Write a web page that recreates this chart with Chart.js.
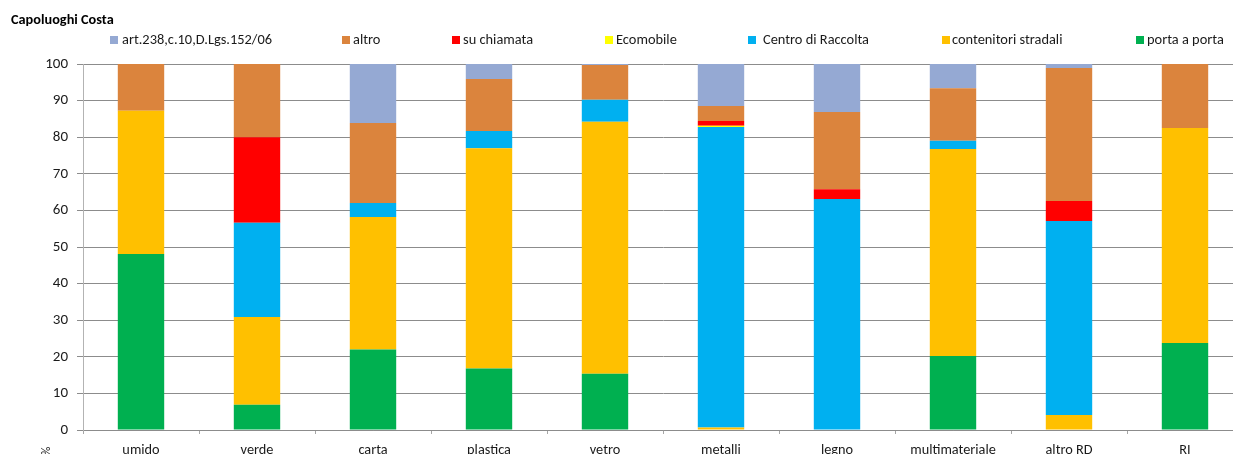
<!DOCTYPE html>
<html>
<head>
<meta charset="utf-8">
<script src="https://cdn.jsdelivr.net/npm/chart.js@4.4.1/dist/chart.umd.min.js"></script>
<style>
  html, body { margin: 0; padding: 0; background: #ffffff; overflow: hidden; }
  #wrap { position: relative; width: 1250px; height: 480px; }
</style>
</head>
<body>
<div id="wrap"><canvas id="c" width="1250" height="480"></canvas></div>
<script>
// ---- data ----
const categories = ['umido', 'verde', 'carta', 'plastica', 'vetro', 'metalli', 'legno', 'multimateriale', 'altro RD', 'RI'];
const yTicks = [0, 10, 20, 30, 40, 50, 60, 70, 80, 90, 100];

const portaAPorta          = [48.1, 6.9, 22.0, 16.8, 15.4, 0.0, 0.0, 20.2, 0.0, 23.8];
const contenitoriStradali  = [39.1, 24.0, 36.2, 60.2, 68.8, 0.7, 0.0, 56.6, 4.1, 58.7];
const centroDiRaccolta     = [0.0, 25.7, 3.8, 4.7, 6.0, 82.1, 63.1, 2.2, 53.0, 0.0];
const ecomobile            = [0.0, 0.0, 0.0, 0.0, 0.0, 0.3, 0.0, 0.0, 0.0, 0.0];
const suChiamata           = [0.0, 23.4, 0.0, 0.0, 0.0, 1.3, 2.7, 0.0, 5.5, 0.0];
const altro                = [12.8, 20.0, 21.9, 14.2, 9.5, 4.1, 21.1, 14.4, 36.3, 17.5];
const art238               = [0.0, 0.0, 16.1, 4.1, 0.3, 11.5, 13.1, 6.6, 1.1, 0.0];

const seriesNames = ['porta a porta', 'contenitori stradali', 'Centro di Raccolta', 'Ecomobile', 'su chiamata', 'altro', 'art.238,c.10,D.Lgs.152/06'];
const seriesValues = [portaAPorta, contenitoriStradali, centroDiRaccolta, ecomobile, suChiamata, altro, art238];
const seriesColors = ['#00B050', '#FFC000', '#00B0F0', '#FFFF00', '#FF0000', '#DB843D', '#95A9D3'];

// legend layout (reference order: reverse of stacking)
const legendMarkerX = [110, 342, 452, 605, 748, 942, 1136];
const legendTextX   = [122, 353, 463, 616, 763, 952, 1147];

const FONT = "Carlito, Calibri, Lato, 'Liberation Sans', sans-serif";

const datasets = seriesNames.map((name, i) => ({
  label: name,
  data: seriesValues[i],
  backgroundColor: seriesColors[i],
  borderWidth: 0,
  barPercentage: 0.4,
  categoryPercentage: 1.0,
  stack: 's'
}));

const overlay = {
  id: 'overlay',
  afterDraw(chart) {
    const ctx = chart.ctx;
    ctx.save();
    // title
    ctx.fillStyle = '#000000';
    ctx.font = 'bold 14.3px ' + FONT;
    ctx.textBaseline = 'middle';
    ctx.textAlign = 'left';
    ctx.fillText('Capoluoghi Costa', 11, 20.5);
    // legend (reversed order)
    ctx.font = '14.4px ' + FONT;
    const n = chart.data.datasets.length;
    for (let k = 0; k < n; k++) {
      const ds = chart.data.datasets[n - 1 - k];
      ctx.fillStyle = ds.backgroundColor;
      ctx.fillRect(legendMarkerX[k], 36, 8, 8);
      ctx.fillStyle = '#1a1a1a';
      ctx.fillText(ds.label, legendTextX[k], 40.5);
    }
    // rotated axis unit
    ctx.translate(47, 451);
    ctx.rotate(-Math.PI / 2);
    ctx.font = '12px ' + FONT;
    ctx.fillStyle = '#1a1a1a';
    ctx.textAlign = 'center';
    ctx.fillText('%', 0, 0);
    ctx.restore();
  }
};

new Chart(document.getElementById('c'), {
  type: 'bar',
  data: { labels: categories, datasets },
  options: {
    responsive: false,
    animation: false,
    maintainAspectRatio: false,
    layout: { padding: { top: 64, right: 7, left: 0, bottom: 0 } },
    plugins: { legend: { display: false }, tooltip: { enabled: false }, title: { display: false } },
    scales: {
      x: {
        stacked: true,
        afterFit(s) { s.height = 50; },
        grid: { display: true, offset: true, drawOnChartArea: false, drawTicks: true, tickLength: 4, color: '#a6a6a6' },
        border: { display: true, color: '#8c8c8c', width: 1 },
        ticks: { color: '#1a1a1a', font: { family: FONT, size: 14.3 }, padding: 8, maxRotation: 0, autoSkip: false }
      },
      y: {
        stacked: true,
        min: 0, max: 100,
        afterFit(s) { s.width = 83; },
        afterBuildTicks(s) { s.ticks = yTicks.map(v => ({ value: v })); },
        grid: { color: '#8c8c8c', lineWidth: 1, drawTicks: true, tickLength: 6 },
        border: { display: true, color: '#b3b3b3', width: 1 },
        ticks: { color: '#1a1a1a', font: { family: FONT, size: 15 }, padding: 9 }
      }
    }
  },
  plugins: [overlay]
});
</script>
</body>
</html>
